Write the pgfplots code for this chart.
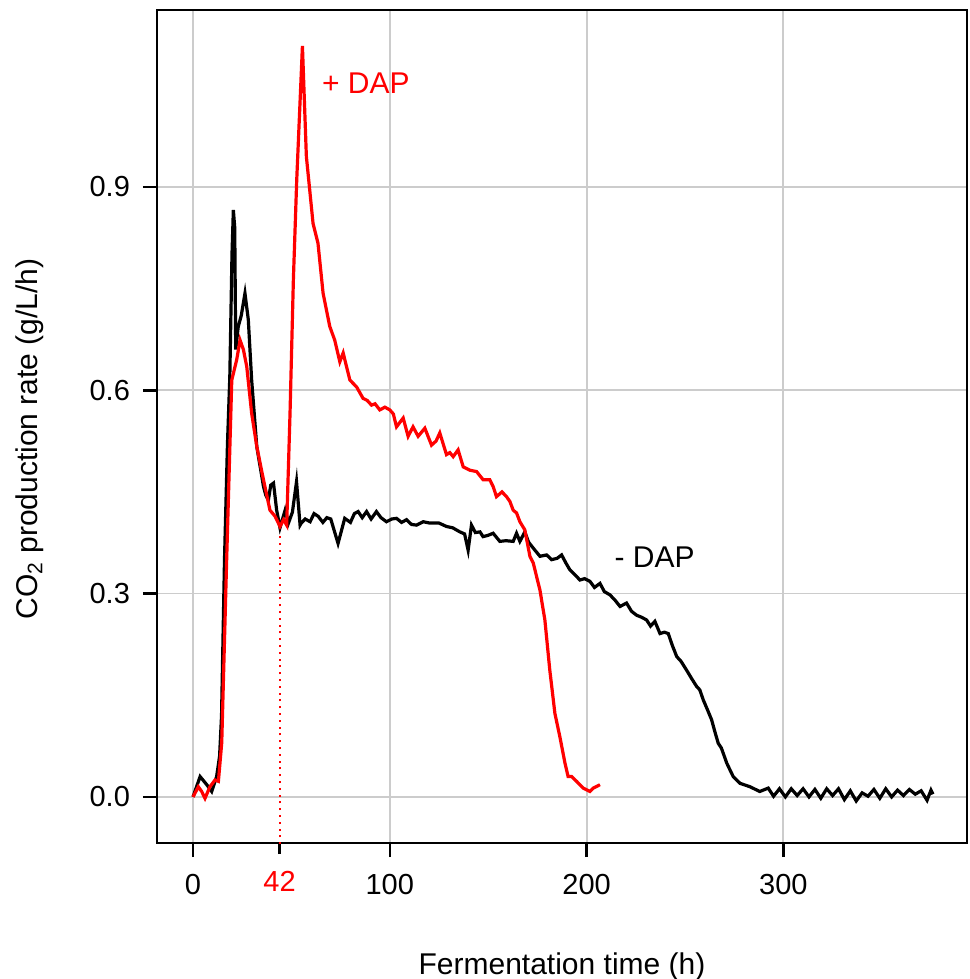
\documentclass[border=0pt]{standalone}
\usepackage{pgfplots}
\pgfplotsset{compat=1.18}
\usepackage{fontspec}
\setmainfont{Liberation Sans}

\pgfplotstableread{
x y
0 0.0
3.6 0.03
7 0.018
9.5 0.008
12 0.03
13.5 0.06
14.5 0.12
16 0.35
17.5 0.52
18.7 0.62
19.8 0.80
20.5 0.866
21.2 0.84
21.7 0.66
23 0.694
24.5 0.71
26.4 0.743
28.1 0.704
29.8 0.615
32.4 0.517
35.8 0.458
37 0.445
38.3 0.438
39.5 0.46
40.9 0.463
42.5 0.423
44.2 0.397
46.8 0.423
48.5 0.404
50.5 0.42
52.6 0.465
54.4 0.401
55 0.404
57 0.41
59.5 0.406
61.5 0.418
63.6 0.414
66 0.405
68 0.412
70 0.41
73.7 0.374
77.1 0.411
80 0.405
82 0.418
83.9 0.421
86 0.412
88.2 0.421
90.5 0.41
93.2 0.421
95.5 0.412
98.3 0.406
101 0.41
103.4 0.411
106 0.405
108.5 0.409
111 0.402
113.6 0.401
117 0.406
120.3 0.404
125 0.404
128.8 0.399
132 0.397
135.6 0.391
138 0.388
139.8 0.364
141.5 0.401
143.5 0.39
145.8 0.391
147.4 0.384
150 0.386
152.5 0.389
155.9 0.377
159 0.378
162.7 0.377
164.4 0.389
166.1 0.377
168.6 0.391
170.5 0.376
172.9 0.367
176.3 0.355
179.7 0.357
182.2 0.350
185 0.352
187.3 0.357
189.5 0.345
191.5 0.335
194 0.328
196.6 0.320
199 0.322
201.7 0.318
204 0.309
206.8 0.315
209 0.303
211.9 0.298
214.5 0.290
217 0.281
220.3 0.286
222.8 0.274
225.4 0.268
228 0.265
230.5 0.261
232.5 0.252
234.7 0.259
237.3 0.241
239.5 0.243
241.5 0.241
243.5 0.224
245.8 0.207
248 0.200
250.8 0.187
253.5 0.174
255.9 0.163
257.5 0.158
259.3 0.143
261.5 0.128
263.5 0.114
265 0.098
266.9 0.079
268.5 0.072
271.2 0.050
272.5 0.042
274.5 0.030
278 0.020
283 0.015
288 0.008
292.3 0.013
295 0.001
298 0.012
301 0.000
304 0.012
307 0.002
310 0.012
313 0.000
316 0.011
319 -0.002
322 0.012
325 0.002
328 0.012
331 -0.004
334 0.009
337 -0.006
340 0.006
343 0.001
346 0.011
349 -0.002
352 0.012
355 0.000
358 0.010
361 0.002
364 0.011
367 0.004
370 0.009
373 -0.005
375 0.010
376 0.004
}\minusdap

\pgfplotstableread{
x y
0 0.0
2.7 0.015
4.4 0.008
6.1 -0.002
8.6 0.015
11.2 0.025
12.9 0.023
14.6 0.08
17.1 0.35
19.7 0.615
22.2 0.645
23.9 0.674
25.6 0.66
27.3 0.635
29.8 0.566
32.4 0.517
35.8 0.468
39.1 0.423
41.7 0.414
44.2 0.399
46 0.409
47.6 0.401
49.3 0.566
51 0.763
52.7 0.91
55.6 1.108
57.6 0.945
61 0.846
63.5 0.817
66.1 0.743
69.5 0.694
72 0.674
74.6 0.642
76.3 0.655
79.7 0.615
83.1 0.605
86.4 0.588
88.5 0.585
90.7 0.578
92.5 0.580
94.9 0.571
97.5 0.575
100 0.571
101.8 0.565
103.4 0.546
106.8 0.559
109.3 0.532
111.8 0.546
114.4 0.532
117.8 0.544
121.2 0.519
123.5 0.525
125.4 0.537
128.8 0.505
130.5 0.508
132.2 0.502
134.7 0.512
137.3 0.487
140.7 0.482
144.1 0.480
147.4 0.468
150.8 0.468
152.5 0.458
154.2 0.443
157 0.450
159.3 0.443
161 0.436
162.7 0.423
164.4 0.419
166.1 0.406
168.6 0.394
171.2 0.355
172.9 0.345
176.3 0.305
178.8 0.261
181.3 0.187
183.9 0.123
186.4 0.089
189 0.050
190.6 0.030
192.4 0.030
194.9 0.023
198.3 0.013
201.7 0.008
203.4 0.013
206.8 0.018
}\plusdap

\begin{document}
\begin{tikzpicture}
\useasboundingbox (-78.5pt,-68pt) rectangle (406pt,421.5pt);
\begin{axis}[
  scale only axis,
  width=405pt,
  height=416.5pt,
  at={(0pt,0pt)},
  anchor=south west,
  xmin=-18.3, xmax=393.3,
  ymin=-0.068, ymax=1.161,
  axis line style={line width=1.4pt},
  tick align=outside,
  xtick pos=bottom,
  ytick pos=left,
  major tick length=7pt,
  tick style={line width=1.3pt, black},
  xtick={0,100,200,300},
  ytick={0,0.3,0.6,0.9},
  yticklabels={0.0,0.3,0.6,0.9},
  extra x ticks={44},
  extra x tick labels={\textcolor{red}{42}},
  extra x tick style={grid=none, major tick length=5.5pt},
  grid=major,
  major grid style={line width=0.9pt, color=black!20},
  /pgf/number format/assume math mode=true,
  ticklabel style={font=\fontsize{14.5}{17}\selectfont},
  label style={font=\fontsize{15}{18}\selectfont},
  xticklabel style={yshift=-5pt},
  yticklabel style={xshift=-3pt},
  xlabel={Fermentation time (h)},
  ylabel={CO\textsubscript{2} production rate (g/L/h)},
  xlabel style={at={(axis description cs:0.5,0)}, anchor=center, yshift=-62pt},
  ylabel style={at={(axis description cs:0,0.485)}, anchor=center, yshift=63.5pt},
  clip=true,
]
\addplot[red, line width=1pt, dash pattern=on 1pt off 2.4pt] coordinates {(44,-0.1) (44,0.39)};
\addplot[black, line width=1.6pt] table[x=x, y=y] {\minusdap};
\addplot[red, line width=1.6pt] table[x=x, y=y] {\plusdap};
\node[red, font=\fontsize{15}{18}\selectfont] at (axis cs:87.8,1.053) {+ DAP};
\node[black, font=\fontsize{15}{18}\selectfont] at (axis cs:234.6,0.354) {- DAP};
\end{axis}
\end{tikzpicture}
\end{document}
